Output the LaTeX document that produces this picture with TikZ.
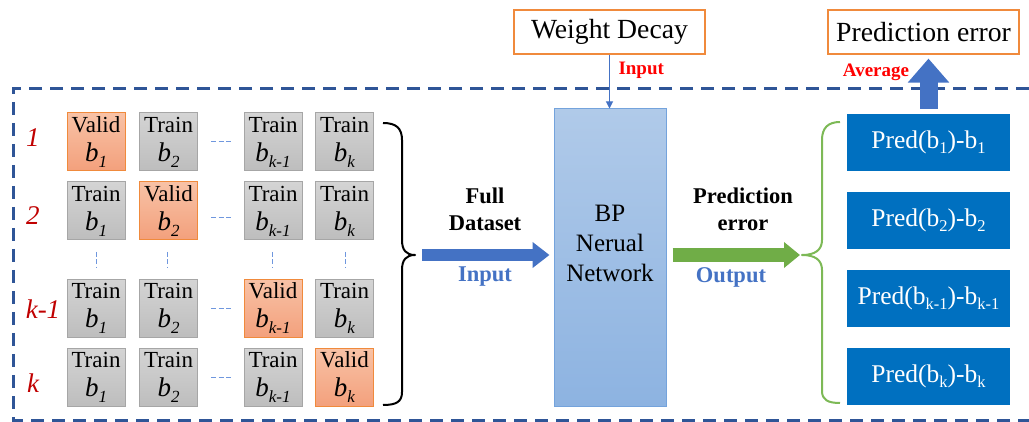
\documentclass[tikz,border=0pt]{standalone}
\usepackage{fontspec}
\setmainfont{Liberation Serif}
\usetikzlibrary{arrows.meta}

\definecolor{frameblue}{HTML}{2F5597}
\definecolor{arrowblue}{HTML}{4472C4}
\definecolor{arrowgreen}{HTML}{70AD47}
\definecolor{bracegreen}{HTML}{7DB956}
\definecolor{predblue}{HTML}{0070C0}
\definecolor{rowred}{HTML}{C00000}
\definecolor{boxorange}{HTML}{F08A3C}
\definecolor{dotblue}{HTML}{6F97DE}
\definecolor{validtop}{HTML}{F8C2A6}
\definecolor{validbot}{HTML}{F3A07C}
\definecolor{traintop}{HTML}{D4D4D4}
\definecolor{trainbot}{HTML}{BDBDBD}
\definecolor{trainedge}{HTML}{A6A6A6}
\definecolor{bptop}{HTML}{B0CAE9}
\definecolor{bpbot}{HTML}{8DB3E1}
\definecolor{bpedge}{HTML}{74A3DC}

% italic b with a lowered italic index
\newcommand{\bidx}[1]{{\fontsize{27}{27}\selectfont\itshape b}\raisebox{-6pt}{\fontsize{17}{17}\selectfont\itshape #1}}
% upright lowered index for the error terms
\newcommand{\lowidx}[1]{\raisebox{-5pt}{\fontsize{16.5}{16.5}\selectfont #1}}

\tikzset{
  foldbox/.style={minimum width=58pt, minimum height=58pt, inner sep=0pt,
    align=center, line width=1pt, font=\fontsize{23}{29}\selectfont},
  validbox/.style={foldbox, draw=boxorange, top color=validtop, bottom color=validbot},
  trainbox/.style={foldbox, draw=trainedge, top color=traintop, bottom color=trainbot},
  rowlabel/.style={text=rowred, font=\fontsize{27}{27}\selectfont\itshape},
  predbox/.style={fill=predblue, minimum width=163pt, minimum height=57pt, inner sep=0pt,
    text=white, font=\fontsize{25.5}{25.5}\selectfont},
  titlebox/.style={draw=boxorange, line width=1.2pt, minimum width=191pt, minimum height=44pt,
    inner sep=0pt, font=\fontsize{27.7}{27.7}\selectfont},
  boldlabel/.style={align=center, font=\fontsize{22.5}{27}\selectfont\bfseries},
  ellipsis/.style={dotblue, line width=1pt, dash pattern=on 5pt off 2.5pt},
  bigbrace/.style={line width=2pt, line join=round},
}

\begin{document}
\begin{tikzpicture}[x=1pt, y=-1pt]
\useasboundingbox (0,0) rectangle (1029,422);

% dashed frame round the cross-validation part
\draw[frameblue, line width=3pt, dash pattern=on 13pt off 8pt]
  (1029,89) -- (13,89) -- (13,420) -- (1029,420);

% fold rows
\node[rowlabel] (l1) at (33,138) {1};
\node[rowlabel] (l2) at (33,216) {2};
\node[rowlabel] (l3) at (43,309) {k-1};
\node[rowlabel] (l4) at (33,383) {k};

\node[validbox] (a1) at (96,142)    {Valid\\\bidx{1}};
\node[trainbox] (a2) at (168.5,142) {Train\\\bidx{2}};
\node[trainbox] (a3) at (273,142)   {Train\\\bidx{k-1}};
\node[trainbox] (a4) at (344.5,142) {Train\\\bidx{k}};

\node[trainbox] (b1) at (96,211)    {Train\\\bidx{1}};
\node[validbox] (b2) at (168.5,211) {Valid\\\bidx{2}};
\node[trainbox] (b3) at (273,211)   {Train\\\bidx{k-1}};
\node[trainbox] (b4) at (344.5,211) {Train\\\bidx{k}};

\node[trainbox] (c1) at (96,308.5)    {Train\\\bidx{1}};
\node[trainbox] (c2) at (168.5,308.5) {Train\\\bidx{2}};
\node[validbox] (c3) at (273,308.5)   {Valid\\\bidx{k-1}};
\node[trainbox] (c4) at (344.5,308.5) {Train\\\bidx{k}};

\node[trainbox] (d1) at (96,377.5)    {Train\\\bidx{1}};
\node[trainbox] (d2) at (168.5,377.5) {Train\\\bidx{2}};
\node[trainbox] (d3) at (273,377.5)   {Train\\\bidx{k-1}};
\node[validbox] (d4) at (344.5,377.5) {Valid\\\bidx{k}};

% ellipsis marks
\foreach \y in {142,218,309,377} \draw[ellipsis] (211,\y) -- (232,\y);
\foreach \x in {96,167,272,345} \draw[ellipsis] (\x,252) -- (\x,268);

% brace gathering the folds
\coordinate (btip) at (415,255);
\draw[bigbrace] (383,123) .. controls (396,123) and (402,128) .. (402,140)
  -- (402,240) .. controls (402,250) and (406,255) .. (btip)
  .. controls (406,255) and (402,260) .. (402,270)
  -- (402,392) .. controls (402,402) and (396,405) .. (383,405);

% network
\node[draw=bpedge, line width=1pt, top color=bptop, bottom color=bpbot,
  minimum width=112pt, minimum height=297pt, inner sep=0pt] (bp) at (610,257.5) {};
\node[align=center, font=\fontsize{25}{30}\selectfont] (bptext) at (610,243) {BP\\Nerual\\Network};

\node[titlebox] (wd) at (609.5,32) {Weight Decay};
\node[titlebox] (perr) at (923.5,32) {Prediction error};

\draw[arrowblue, line width=1pt, -{Triangle[length=7pt,width=7pt]}] (wd.south) -- (wd.south |- bp.north);
\node[anchor=west, text=red, font=\fontsize{19}{19}\selectfont\bfseries] (wdin) at (615,70) {Input};

% input arrow
\draw[arrowblue, line width=12pt, -{Triangle[length=17pt,width=25pt]}, shorten <=7pt, shorten >=4pt]
  (btip) -- (bp.west |- btip);
\node[boldlabel] (full) at (485,209.5) {Full\\Dataset};
\node[boldlabel, text=arrowblue] (inlab) at (485,277) {Input};

% output arrow and brace
\coordinate (gtip) at (802,255);
\draw[arrowgreen, line width=14pt, -{Triangle[length=16pt,width=25pt]}, shorten <=6pt, shorten >=2pt]
  (bp.east |- gtip) -- (gtip);
\node[boldlabel] (perrlab) at (743,209.5) {Prediction\\error};
\node[boldlabel, text=arrowblue] (outlab) at (731,277) {Output};

\draw[bracegreen, bigbrace] (840,122) .. controls (828,122) and (822,128) .. (822,140)
  -- (822,240) .. controls (822,250) and (815,255) .. (gtip)
  .. controls (815,255) and (822,260) .. (822,270)
  -- (822,391) .. controls (822,400) and (828,403) .. (840,403);

% error terms of the folds
\node[predbox] (p1) at (928.5,142.5) {Pred(b\lowidx{1})-b\lowidx{1}};
\node[predbox] (p2) at (928.5,220.5) {Pred(b\lowidx{2})-b\lowidx{2}};
\node[predbox] (p3) at (928.5,298.5) {Pred(b\lowidx{k-1})-b\lowidx{k-1}};
\node[predbox] (p4) at (928.5,376.5) {Pred(b\lowidx{k})-b\lowidx{k}};

% averaging arrow
\draw[arrowblue, line width=18pt, -{Triangle[length=24pt,width=40pt]}, shorten <=5pt, shorten >=4pt]
  (p1.north) -- (p1.north |- perr.south);
\node[text=red, font=\fontsize{19}{19}\selectfont\bfseries] (avg) at (876,72) {Average};
\end{tikzpicture}
\end{document}
